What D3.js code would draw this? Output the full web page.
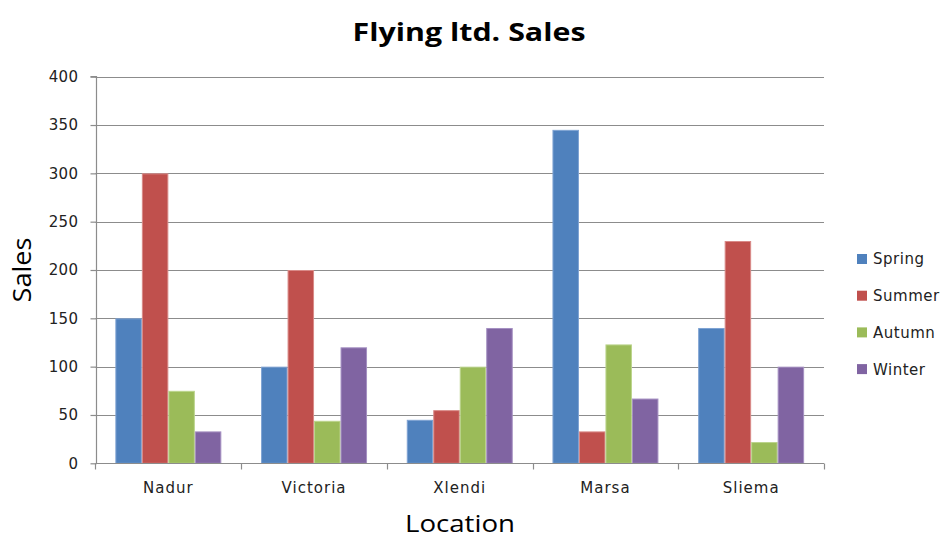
<!DOCTYPE html>
<html>
<head>
<meta charset="utf-8">
<script src="https://cdn.jsdelivr.net/npm/d3@7"></script>
<style>
  html, body { margin: 0; padding: 0; background: #fff; }
  svg { display: block; }
</style>
</head>
<body>
<svg id="chart" width="946" height="539"></svg>
<script>
const categories = ["Nadur", "Victoria", "Xlendi", "Marsa", "Sliema"];
const seriesNames = ["Spring", "Summer", "Autumn", "Winter"];
const spring = [150, 100, 45, 345, 140];
const summer = [300, 200, 55, 33, 230];
const autumn = [75, 44, 100, 123, 22];
const winter = [33, 120, 140, 67, 100];
const yTicks = [0, 50, 100, 150, 200, 250, 300, 350, 400];
const colors = ["#4F81BD", "#C0504D", "#9BBB59", "#8064A2"];
const strokes = ["#7FA3D3", "#D98A88", "#BBD48C", "#A590C2"];

const seriesValues = [spring, summer, autumn, winter];

const svg = d3.select("#chart");
const pLeft = 95.5, pRight = 824, pTop = 76.7, pBottom = 463.3;

const x0 = d3.scaleBand().domain(categories).range([pLeft, pRight]).paddingInner(0).paddingOuter(0);
const gap = x0.bandwidth() * 0.75 / 5.5;
const x1 = d3.scaleBand().domain(seriesNames).range([gap, x0.bandwidth() - gap]).paddingInner(0).paddingOuter(0);
const y = d3.scaleLinear().domain([0, 400]).range([pBottom, pTop]);

const font = "'DejaVu Sans', Verdana, sans-serif";
const titleFont = "'Open Sans', 'Liberation Sans', sans-serif";

// gridlines
svg.append("g").selectAll("line").data(yTicks.slice(1)).join("line")
  .attr("x1", pLeft).attr("x2", pRight)
  .attr("y1", d => Math.round(y(d)) + 0.5).attr("y2", d => Math.round(y(d)) + 0.5)
  .attr("stroke", "#8c8c8c").attr("stroke-width", 1.2);

// bars
const groups = svg.append("g").selectAll("g").data(categories).join("g")
  .attr("transform", c => `translate(${x0(c)},0)`);
groups.selectAll("rect").data((c, i) => seriesNames.map((s, j) => ({ s, j, v: seriesValues[j][i] })))
  .join("rect")
  .attr("x", d => x1(d.s) + 0.5)
  .attr("width", x1.bandwidth() - 1)
  .attr("y", d => y(d.v) + 0.5)
  .attr("height", d => pBottom - y(d.v) - 0.5)
  .attr("fill", d => colors[d.j])
  .attr("stroke", d => strokes[d.j])
  .attr("stroke-width", 1);

// y axis
const yAxis = d3.axisLeft(y).tickValues(yTicks).tickSize(6).tickPadding(12);
const yg = svg.append("g").attr("transform", `translate(${Math.round(pLeft) + 0.5},0)`).call(yAxis);
yg.select(".domain").attr("stroke", "#8c8c8c").attr("stroke-width", 1.2).attr("d", `M-6,${pTop}H0V${pBottom}`);
yg.selectAll(".tick line").attr("stroke", "#8c8c8c").attr("stroke-width", 1.2);
yg.selectAll(".tick text").attr("font-family", font).attr("font-size", 15)
  .attr("letter-spacing", 0.4).attr("fill", "#222");

// x axis
const xAxis = d3.axisBottom(x0).tickSize(0).tickPadding(19);
const xg = svg.append("g").attr("transform", `translate(0,${Math.round(pBottom) + 0.5})`).call(xAxis);
xg.select(".domain").attr("stroke", "#8c8c8c").attr("stroke-width", 1.2).attr("d", `M${pLeft},0H${pRight}`);
xg.selectAll(".tick text").attr("font-family", font).attr("font-size", 15)
  .attr("letter-spacing", 1).attr("fill", "#222");
xg.append("g").selectAll("line").data(categories.map(c => x0(c) + x0.bandwidth())).join("line")
  .attr("x1", d => Math.round(d) + 0.5).attr("x2", d => Math.round(d) + 0.5)
  .attr("y1", 0).attr("y2", 6)
  .attr("stroke", "#8c8c8c").attr("stroke-width", 1.2);
xg.append("line").attr("x1", pLeft).attr("x2", pLeft).attr("y1", 0).attr("y2", 6)
  .attr("stroke", "#8c8c8c").attr("stroke-width", 1.2);

// title
svg.append("text").attr("x", 469).attr("y", 41).attr("text-anchor", "middle")
  .attr("font-family", titleFont).attr("font-weight", "bold")
  .attr("font-size", 25).attr("fill", "#000").attr("textLength", 233).attr("lengthAdjust", "spacingAndGlyphs")
  .text("Flying ltd. Sales");

// axis titles
svg.append("text").attr("x", 460).attr("y", 532).attr("text-anchor", "middle")
  .attr("font-family", titleFont)
  .attr("font-size", 24).attr("fill", "#000").attr("textLength", 110).attr("lengthAdjust", "spacingAndGlyphs")
  .text("Location");
svg.append("text").attr("transform", "translate(31,270) rotate(-90)").attr("text-anchor", "middle")
  .attr("font-family", titleFont)
  .attr("font-size", 25).attr("fill", "#000").attr("textLength", 65).attr("lengthAdjust", "spacingAndGlyphs")
  .text("Sales");

// legend
const legend = svg.append("g").selectAll("g").data(seriesNames).join("g")
  .attr("transform", (d, i) => `translate(857,${259 + i * 36.7})`);
legend.append("rect").attr("x", 0).attr("y", -5).attr("width", 10).attr("height", 10)
  .attr("fill", (d, i) => colors[i]);
legend.append("text").attr("x", 16).attr("y", 0).attr("dy", "0.36em")
  .attr("font-family", font).attr("font-size", 15).attr("letter-spacing", 0.5)
  .attr("fill", "#222").text(d => d);
</script>
</body>
</html>
